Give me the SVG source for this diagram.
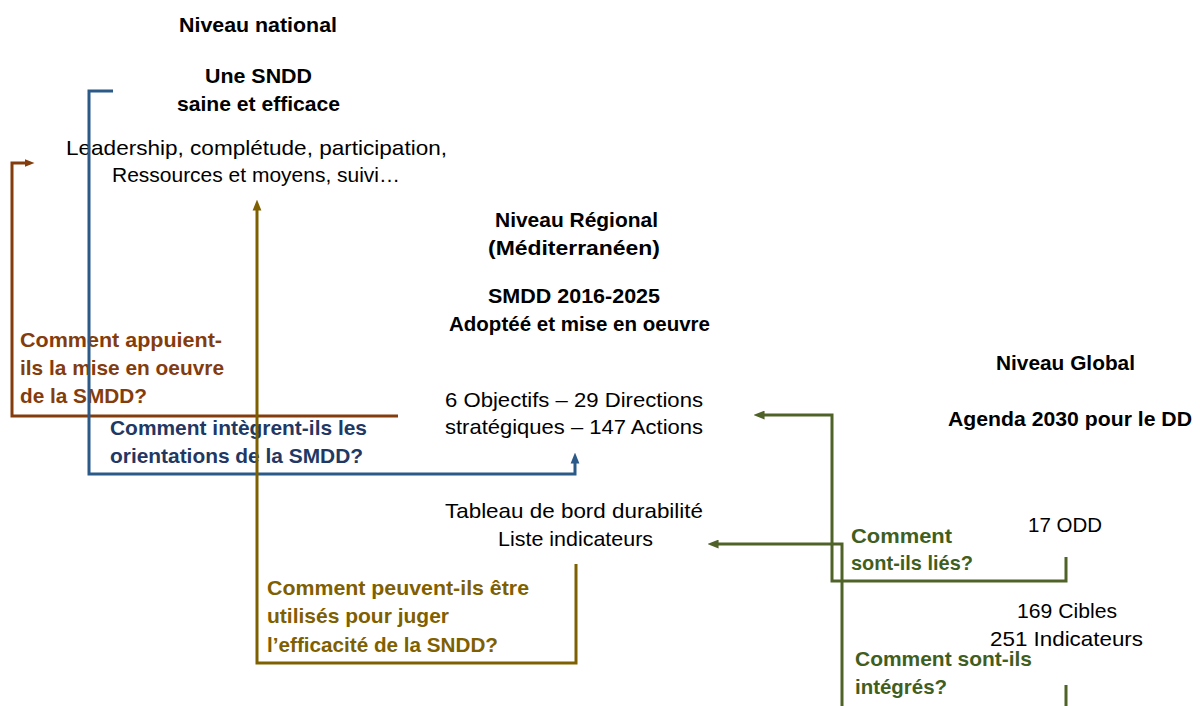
<svg xmlns="http://www.w3.org/2000/svg" width="1200" height="706" viewBox="0 0 1200 706">
<style>
text{font-family:"Liberation Sans",Arial,sans-serif;font-size:21px;fill:#000}
.b{font-weight:bold}
.brown{fill:#843C0C;font-weight:bold}
.blue{fill:#1F3864;font-weight:bold}
.olive{fill:#7F6000;font-weight:bold}
.green{fill:#3F5E22;font-weight:bold}
.ln{fill:none;stroke-width:3;stroke-linejoin:miter}
</style>
<defs>
<marker id="aBrown" viewBox="0 0 10 8" refX="0.5" refY="4" markerWidth="10" markerHeight="9" markerUnits="userSpaceOnUse" orient="auto"><path d="M0,0 L10,4 L0,8 z" fill="#843C0C"/></marker>
<marker id="aBlue" viewBox="0 0 10 8" refX="0.5" refY="4" markerWidth="11" markerHeight="10" markerUnits="userSpaceOnUse" orient="auto"><path d="M0,0 L10,4 L0,8 z" fill="#2B5A88"/></marker>
<marker id="aOlive" viewBox="0 0 10 8" refX="0.5" refY="4" markerWidth="11" markerHeight="10" markerUnits="userSpaceOnUse" orient="auto"><path d="M0,0 L10,4 L0,8 z" fill="#7F6000"/></marker>
<marker id="aGreen" viewBox="0 0 10 8" refX="0.5" refY="4" markerWidth="11" markerHeight="9" markerUnits="userSpaceOnUse" orient="auto"><path d="M0,0 L10,4 L0,8 z" fill="#4F6228"/></marker>
</defs>
<rect width="1200" height="706" fill="#fff"/>

<g id="national">
<text class="b" x="179" y="32" textLength="158" lengthAdjust="spacingAndGlyphs">Niveau national</text>
<text class="b" x="205" y="83" textLength="107" lengthAdjust="spacingAndGlyphs">Une SNDD</text>
<text class="b" x="177" y="111" textLength="163" lengthAdjust="spacingAndGlyphs">saine et efficace</text>
<text x="66" y="155" textLength="381" lengthAdjust="spacingAndGlyphs">Leadership, complétude, participation,</text>
<text x="112" y="182" textLength="288" lengthAdjust="spacingAndGlyphs">Ressources et moyens, suivi…</text>
</g>

<g id="regional">
<text class="b" x="495" y="227" textLength="163" lengthAdjust="spacingAndGlyphs">Niveau Régional</text>
<text class="b" x="488" y="255" textLength="172" lengthAdjust="spacingAndGlyphs">(Méditerranéen)</text>
<text class="b" x="488" y="303" textLength="172" lengthAdjust="spacingAndGlyphs">SMDD 2016-2025</text>
<text class="b" x="449" y="331" textLength="261" lengthAdjust="spacingAndGlyphs">Adoptéé et mise en oeuvre</text>
<text x="445" y="407" textLength="258" lengthAdjust="spacingAndGlyphs">6 Objectifs – 29 Directions</text>
<text x="445" y="434" textLength="258" lengthAdjust="spacingAndGlyphs">stratégiques – 147 Actions</text>
<text x="445" y="518" textLength="258" lengthAdjust="spacingAndGlyphs">Tableau de bord durabilité</text>
<text x="498" y="546" textLength="155" lengthAdjust="spacingAndGlyphs">Liste indicateurs</text>
</g>

<g id="global">
<text class="b" x="996" y="370" textLength="139" lengthAdjust="spacingAndGlyphs">Niveau Global</text>
<text class="b" x="948" y="426" textLength="244" lengthAdjust="spacingAndGlyphs">Agenda 2030 pour le DD</text>
<text x="1028" y="532" textLength="74" lengthAdjust="spacingAndGlyphs">17 ODD</text>
<text x="1017" y="618" textLength="100" lengthAdjust="spacingAndGlyphs">169 Cibles</text>
<text x="990" y="646" textLength="153" lengthAdjust="spacingAndGlyphs">251 Indicateurs</text>
</g>

<g id="label-brown">
<text class="brown" x="20" y="347" textLength="202" lengthAdjust="spacingAndGlyphs">Comment appuient-</text>
<text class="brown" x="20" y="375" textLength="204" lengthAdjust="spacingAndGlyphs">ils la mise en oeuvre</text>
<text class="brown" x="20" y="403" textLength="127" lengthAdjust="spacingAndGlyphs">de la SMDD?</text>
</g>
<g id="label-blue">
<text class="blue" x="110" y="435" textLength="257" lengthAdjust="spacingAndGlyphs">Comment intègrent-ils les</text>
<text class="blue" x="110" y="463" textLength="253" lengthAdjust="spacingAndGlyphs">orientations de la SMDD?</text>
</g>
<g id="label-olive">
<text class="olive" x="267" y="595" textLength="262" lengthAdjust="spacingAndGlyphs">Comment peuvent-ils être</text>
<text class="olive" x="267" y="623" textLength="182" lengthAdjust="spacingAndGlyphs">utilisés pour juger</text>
<text class="olive" x="267" y="652" textLength="231" lengthAdjust="spacingAndGlyphs">l’efficacité de la SNDD?</text>
</g>
<g id="label-green">
<text class="green" x="851" y="543" textLength="101" lengthAdjust="spacingAndGlyphs">Comment</text>
<text class="green" x="851" y="570" textLength="122" lengthAdjust="spacingAndGlyphs">sont-ils liés?</text>
<text class="green" x="855" y="666" textLength="177" lengthAdjust="spacingAndGlyphs">Comment sont-ils</text>
<text class="green" x="855" y="694" textLength="92" lengthAdjust="spacingAndGlyphs">intégrés?</text>
</g>

<g id="connectors">
<path class="ln" stroke="#843C0C" d="M398,416 H12 V163 H25" marker-end="url(#aBrown)"/>
<path class="ln" stroke="#2B5A88" d="M113,91 H89 V474 H575 V463" marker-end="url(#aBlue)"/>
<path class="ln" stroke="#7F6000" d="M576,564 V663 H257 V210" marker-end="url(#aOlive)"/>
<path class="ln" stroke="#4F6228" d="M1066,557 V581 H832 V415 H764" marker-end="url(#aGreen)"/>
<path class="ln" stroke="#4F6228" d="M1066,685 V720 H842 V544 H718" marker-end="url(#aGreen)"/>
</g>
</svg>
